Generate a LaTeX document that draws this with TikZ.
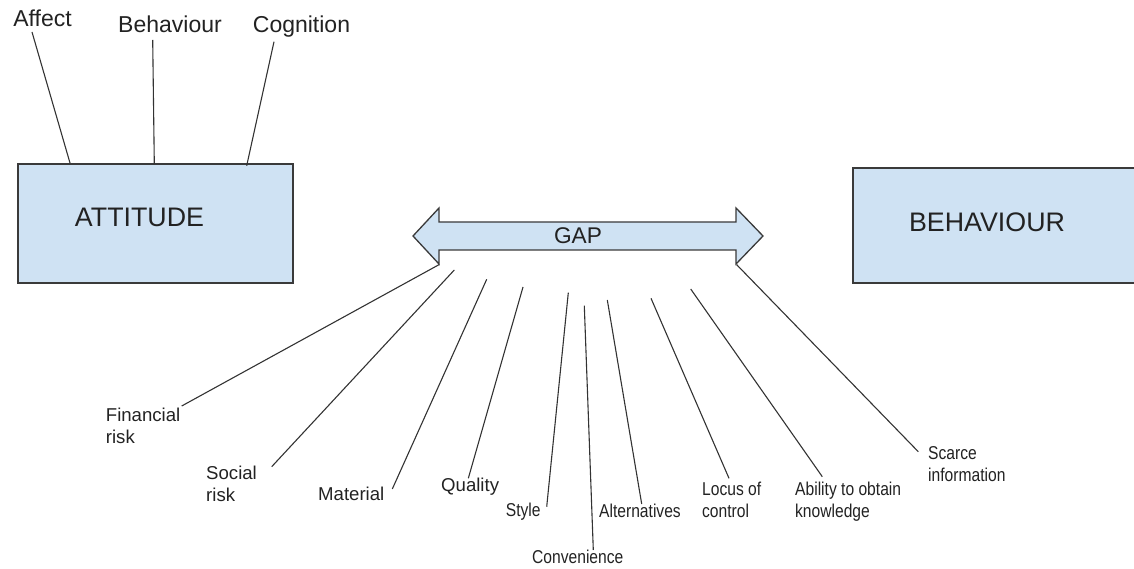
\documentclass[tikz,border=0pt]{standalone}
\usepackage{fontspec}
\setmainfont{Liberation Sans}
\definecolor{boxfill}{HTML}{CFE2F3}
\definecolor{boxline}{HTML}{3A3A3A}
\definecolor{linecol}{HTML}{333333}
\definecolor{textcol}{HTML}{222222}
\begin{document}
\begin{tikzpicture}[x=1pt,y=-1pt,
  boxnode/.style={draw=boxline,fill=boxfill,line width=1.5pt,inner sep=0pt,rectangle},
  bigtext/.style={font=\fontsize{26.8}{30}\selectfont,text=textcol,inner sep=0pt},
  toplab/.style={font=\fontsize{23}{27}\selectfont,text=textcol,inner sep=0pt,anchor=base},
  botlab/.style={font=\fontsize{18.6}{22}\selectfont,text=textcol,inner sep=0pt,align=left,anchor=base west},
  narrow/.style={xscale=0.84,transform shape},
  conn/.style={draw=linecol,line width=1.1pt}]
\useasboundingbox (0,0) rectangle (1134,569);
% boxes
\node[boxnode,minimum width=275pt,minimum height=119pt] (att) at (155.5,223.5) {};
\node[bigtext] (attt) at (139.5,217) {ATTITUDE};
\node[boxnode,minimum width=300pt,minimum height=114.5pt] (beh) at (1003,225.5) {};
\node[bigtext] (beht) at (987,222) {BEHAVIOUR};
% gap arrow
\filldraw[fill=boxfill,draw=boxline,line width=1.3pt,line join=miter]
  (413,236) -- (439,208) -- (439,222) -- (736,222) -- (736,208) -- (763,236)
  -- (736,264) -- (736,250) -- (439,250) -- (439,264) -- cycle;
\node[font=\fontsize{22.7}{26}\selectfont,text=textcol,inner sep=0pt] (gap) at (578,236) {GAP};
% top labels
\node[toplab] (aff) at (42.5,27) {Affect};
\node[toplab] (bhv) at (170,33) {Behaviour};
\node[toplab] (cog) at (301.5,33) {Cognition};
\coordinate (affE) at (32,32);
\coordinate (affS) at (70,163);
\coordinate (bhvE) at (152.7,40);
\coordinate (bhvS) at (154.3,164);
\coordinate (cogE) at (274,41.7);
\coordinate (cogS) at (246.7,165.7);
\draw[conn] (affE) -- (affS);
\draw[conn] (bhvE) -- (bhvS);
\draw[conn] (cogE) -- (cogS);
% bottom labels (base = baseline of last line)
\node[botlab] (fin) at (105.7,443.7) {Financial\\risk};
\node[botlab] (soc) at (206,501) {Social\\risk};
\node[botlab] (mat) at (318,500.7) {Material};
\node[botlab] (qua) at (441,491.7) {Quality};
\node[botlab,narrow] (sty) at (505.7,516.7) {Style};
\node[botlab,narrow] (con) at (532,563.3) {Convenience};
\node[botlab,narrow] (alt) at (599,517.3) {Alternatives};
\node[botlab,narrow] (loc) at (702,517) {Locus of\\control};
\node[botlab,narrow] (abi) at (795,517) {Ability to obtain\\knowledge};
\node[botlab,narrow] (sca) at (928,481.5) {Scarce\\information};
% connector points
\coordinate (g1) at (439.3,264.5);
\coordinate (g2) at (454.3,270);
\coordinate (g3) at (486.7,279.3);
\coordinate (g4) at (523,287);
\coordinate (g5) at (568.3,292.7);
\coordinate (g6) at (584.3,305.7);
\coordinate (g7) at (607.3,300);
\coordinate (g8) at (651,298.3);
\coordinate (g9) at (690.7,289);
\coordinate (g10) at (736.5,264.5);
\coordinate (e1) at (181.7,406);
\coordinate (e2) at (271.7,466.7);
\coordinate (e3) at (392.3,489);
\coordinate (e4) at (468.3,478.3);
\coordinate (e5) at (546.7,506.7);
\coordinate (e6) at (593.3,550);
\coordinate (e7) at (641.7,504);
\coordinate (e8) at (729,478.3);
\coordinate (e9) at (822.3,476.7);
\coordinate (e10) at (918.3,451.7);
\foreach \i in {1,...,10} {\draw[conn] (g\i) -- (e\i);}
\end{tikzpicture}
\end{document}
